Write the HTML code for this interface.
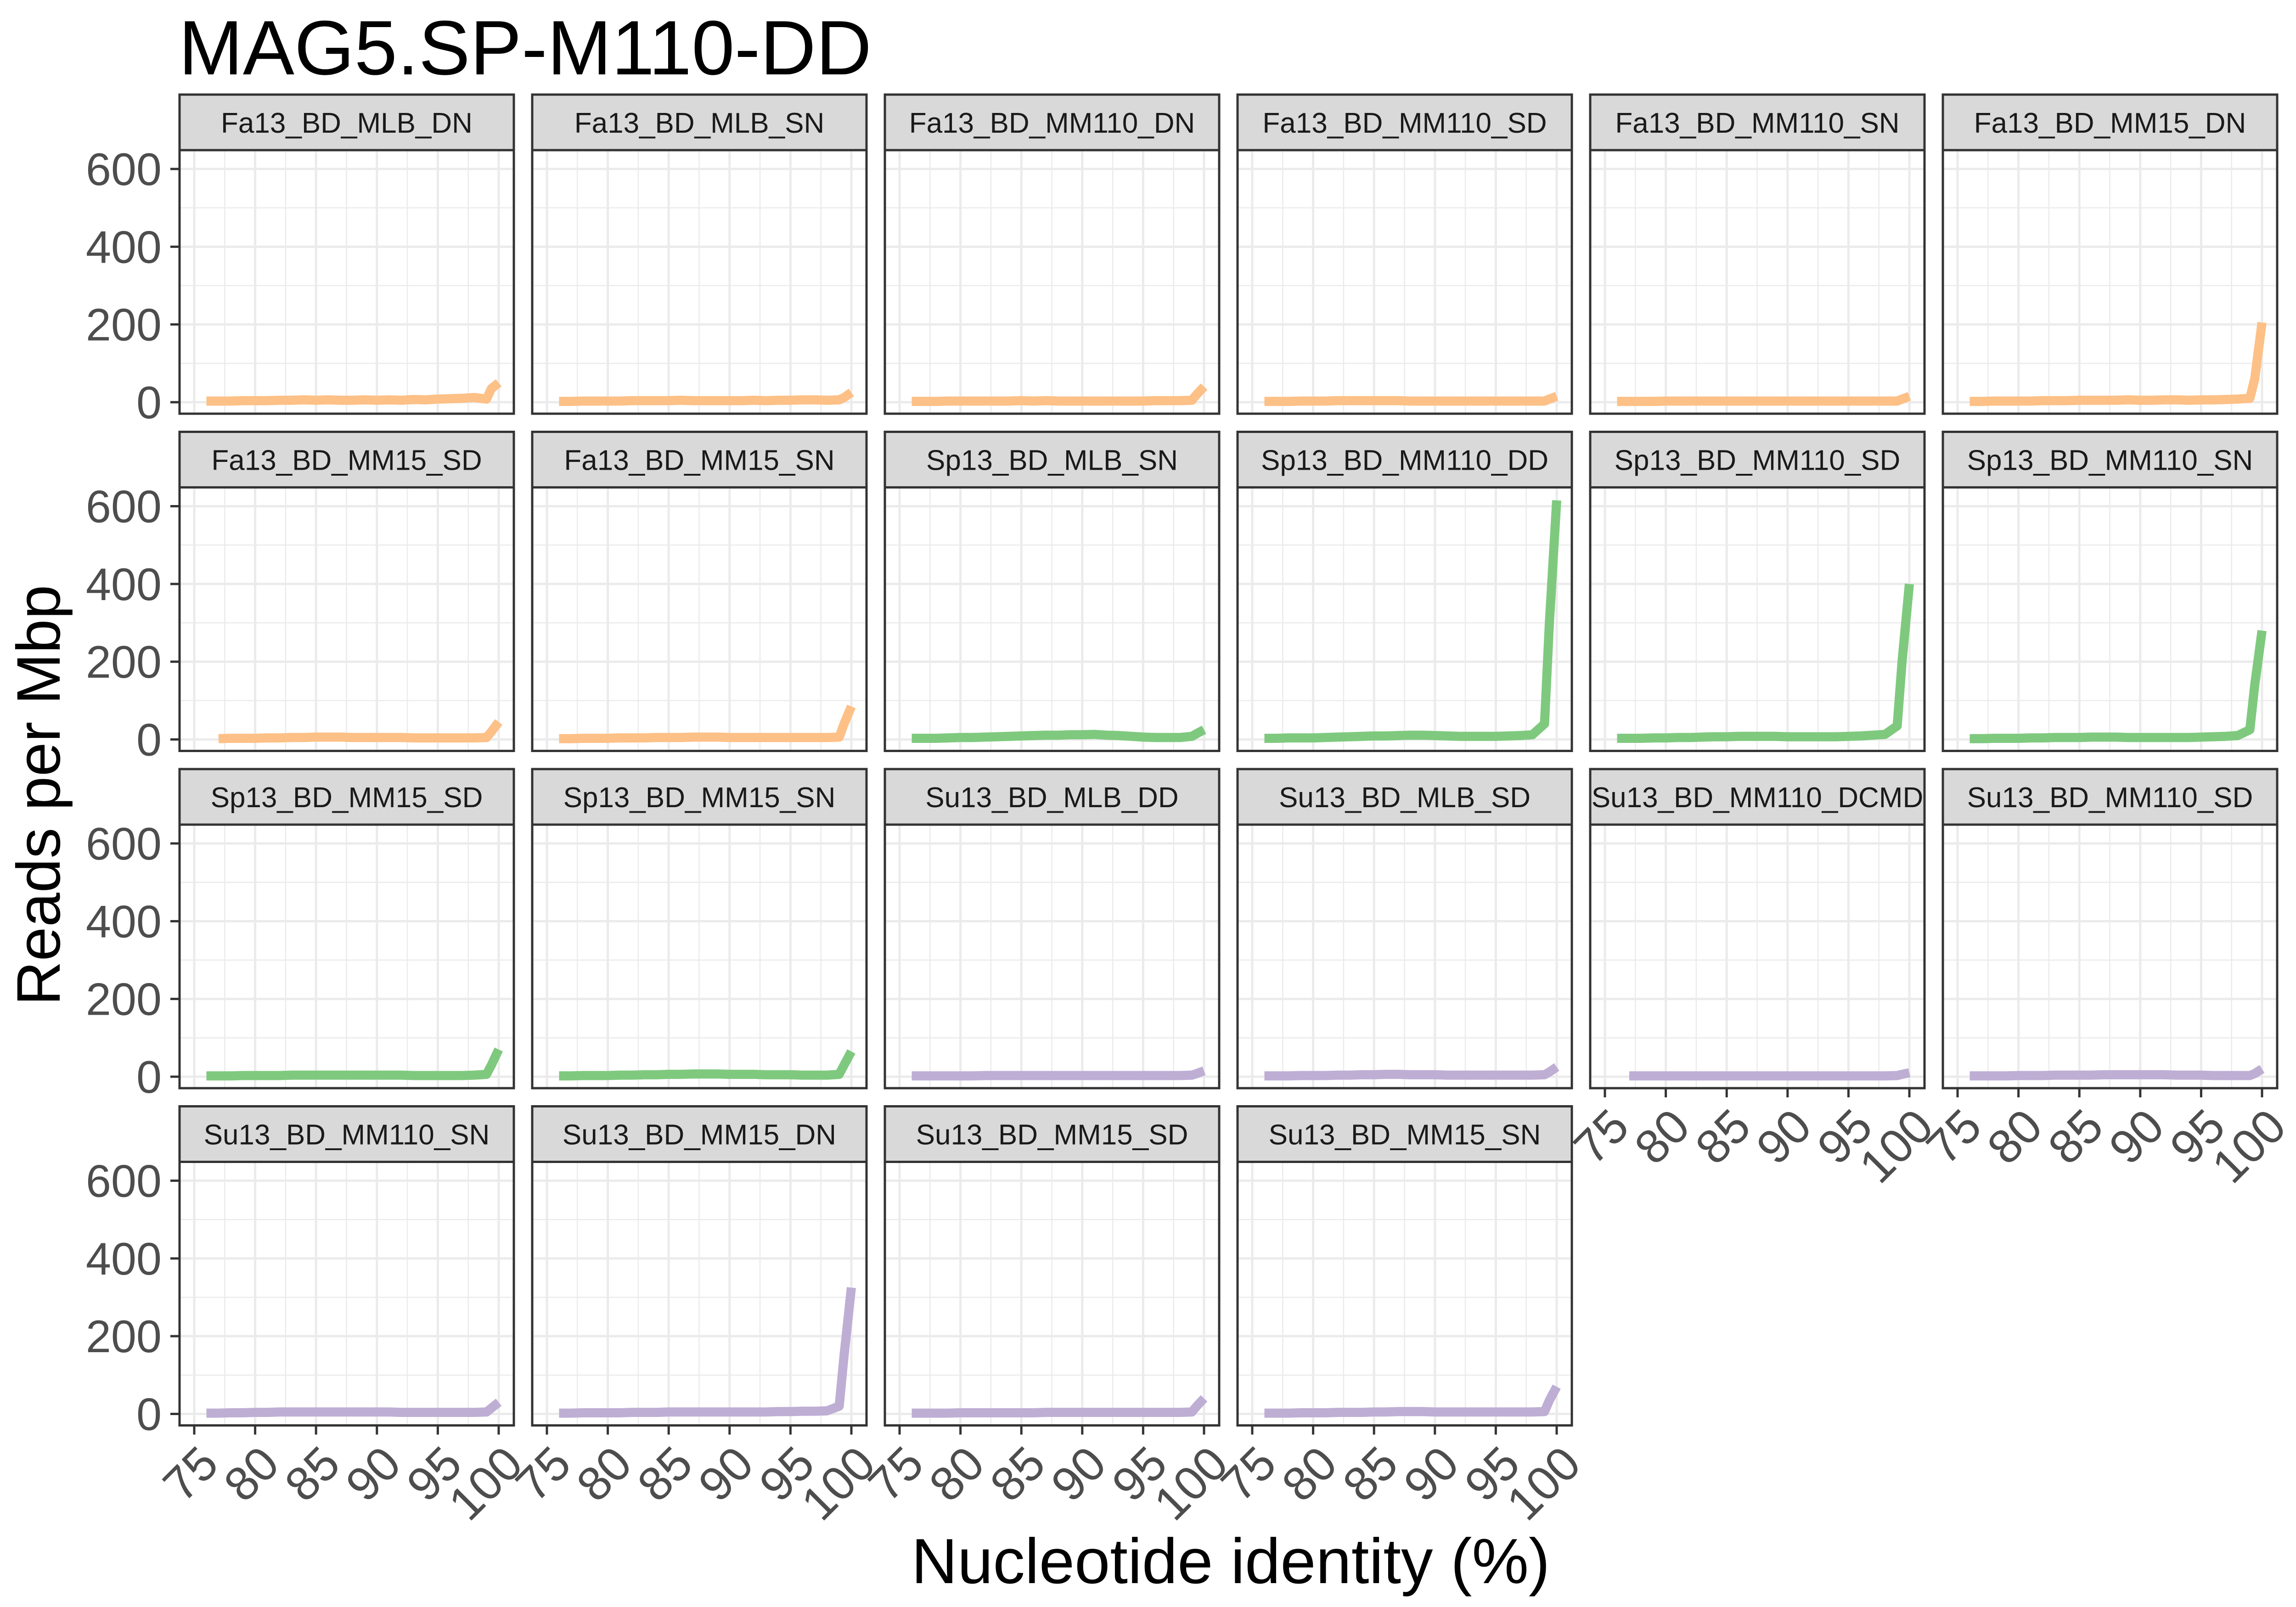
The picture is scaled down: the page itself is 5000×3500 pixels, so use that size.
<!DOCTYPE html>
<html><head><meta charset="utf-8"><style>
html,body{margin:0;padding:0;background:#fff;}
svg{display:block;}
text{font-family:"Liberation Sans",Arial,sans-serif;}
</style></head><body>
<svg id="chart" width="5000" height="3500" viewBox="0 0 5000 3500" xmlns="http://www.w3.org/2000/svg">
<rect width="5000" height="3500" fill="#fff"/>
<text x="389" y="162" font-size="168" fill="#000">MAG5.SP-M110-DD</text>
<text transform="translate(130,1732) rotate(-90)" text-anchor="middle" font-size="134" fill="#000">Reads per Mbp</text>
<text x="2680" y="3448" text-anchor="middle" font-size="139" fill="#000">Nucleotide identity (%)</text>
<g id="panels"></g>
</svg>
<script>
const xs = [76,77,78,79,80,81,82,83,84,85,86,87,88,89,90,91,92,93,94,95,96,97,98,99,99.4,100];
const panelNames = ["Fa13_BD_MLB_DN","Fa13_BD_MLB_SN","Fa13_BD_MM110_DN","Fa13_BD_MM110_SD","Fa13_BD_MM110_SN","Fa13_BD_MM15_DN",
"Fa13_BD_MM15_SD","Fa13_BD_MM15_SN","Sp13_BD_MLB_SN","Sp13_BD_MM110_DD","Sp13_BD_MM110_SD","Sp13_BD_MM110_SN",
"Sp13_BD_MM15_SD","Sp13_BD_MM15_SN","Su13_BD_MLB_DD","Su13_BD_MLB_SD","Su13_BD_MM110_DCMD","Su13_BD_MM110_SD",
"Su13_BD_MM110_SN","Su13_BD_MM15_DN","Su13_BD_MM15_SD","Su13_BD_MM15_SN"];
const panelSeason = ["Fa","Fa","Fa","Fa","Fa","Fa","Fa","Fa","Sp","Sp","Sp","Sp","Sp","Sp","Su","Su","Su","Su","Su","Su","Su","Su"];
const v01 = [3,3,3,4,4,4,5,5,6,5,6,5,5,6,5,6,5,7,6,8,9,10,12,8,35,50];
const v02 = [2,2,3,3,3,3,4,4,4,4,5,4,4,4,4,4,5,4,5,5,6,6,5,6,12,25];
const v03 = [2,2,2,3,3,3,3,3,3,4,3,4,3,3,3,3,3,3,3,3,4,4,4,5,20,40];
const v04 = [2,2,2,3,3,3,4,4,4,4,4,4,3,3,3,3,3,3,3,3,3,3,3,3,8,15];
const v05 = [2,2,2,2,3,3,3,3,3,3,3,3,3,3,3,3,3,3,3,3,3,3,3,3,8,15];
const v06 = [2,2,3,3,3,3,4,4,4,5,5,5,5,6,5,5,6,6,5,6,6,7,8,10,60,205];
const v07 = [null,2,3,3,3,4,4,5,5,6,6,6,5,5,5,5,5,4,4,4,4,4,4,5,20,45];
const v08 = [2,2,3,3,3,4,4,4,5,5,5,6,6,6,5,5,5,5,5,5,5,5,5,6,40,85];
const v09 = [3,3,3,4,5,5,6,7,8,9,10,11,11,12,12,13,11,10,8,6,5,5,5,8,15,25];
const v10 = [3,3,4,4,4,5,6,7,8,9,9,10,11,11,10,9,8,8,8,8,9,10,12,40,300,615];
const v11 = [3,3,3,4,4,5,5,6,7,7,8,8,8,8,7,7,7,7,7,8,9,11,13,35,200,400];
const v12 = [2,2,3,3,3,4,4,5,5,5,6,6,6,5,5,5,5,5,5,6,7,8,10,25,140,280];
const v13 = [2,2,2,3,3,3,3,4,4,4,4,4,4,4,4,4,4,3,3,3,3,3,4,6,30,70];
const v14 = [2,2,3,3,3,4,4,5,5,6,6,7,7,7,6,6,6,5,5,5,4,4,4,6,30,65];
const v15 = [2,2,2,2,2,2,3,3,3,3,3,3,3,3,3,3,3,3,3,3,3,3,3,4,8,15];
const v16 = [2,2,2,3,3,3,4,4,5,5,6,6,5,5,5,4,4,4,4,4,4,4,4,5,12,25];
const v17 = [null,2,2,2,2,2,2,2,2,2,2,2,2,2,2,2,2,2,2,2,2,2,2,3,6,10];
const v18 = [2,2,2,2,3,3,3,4,4,4,4,5,5,5,5,5,5,4,4,4,3,3,3,3,8,20];
const v19 = [2,2,3,3,4,4,5,5,5,5,5,5,5,5,5,5,4,4,4,4,4,4,4,5,15,30];
const v20 = [2,2,3,3,3,3,4,4,4,5,5,5,5,5,5,5,5,5,6,6,7,7,8,20,150,325];
const v21 = [2,2,2,2,3,3,3,3,3,3,3,4,4,4,4,4,4,4,4,4,4,4,4,5,20,40];
const v22 = [2,2,2,3,3,3,4,4,4,5,5,6,6,6,5,5,5,5,5,5,5,5,5,6,35,70];
const panelValues = [v01,v02,v03,v04,v05,v06,v07,v08,v09,v10,v11,v12,v13,v14,v15,v16,v17,v18,v19,v20,v21,v22];
const xTicks = [75,80,85,90,95,100];
const xMinor = [77.5,82.5,87.5,92.5,97.5];
const yTicks = [0,200,400,600];
const yMinor = [100,300,500];

const NS = "http://www.w3.org/2000/svg";
const colors = {Fa:"#FDC086", Sp:"#7FC97F", Su:"#BEAED4"};
const X0=391, PITCH_X=768, PW=728, Y0=206, PITCH_Y=734.5, SH=121, PH=574;
const g = document.getElementById("panels");
function mk(tag, attrs, parent){const e=document.createElementNS(NS,tag);for(const k in attrs)e.setAttribute(k,attrs[k]);(parent||g).appendChild(e);return e;}
function xScale(v, left){return left + 32 + (v-75)*(663/25);}
function yScale(v, top){return top + 41 + (600-v)*(508/600);}

panelNames.forEach((name,i)=>{
  const col=i%6, row=Math.floor(i/6);
  const left=X0+col*PITCH_X, stripTop=Y0+row*PITCH_Y, top=stripTop+SH;
  const pg=mk("g",{});
  
  
  mk("rect",{x:left,y:top,width:PW,height:PH,fill:"#fff"},pg);
  xMinor.forEach(v=>mk("line",{x1:xScale(v,left),x2:xScale(v,left),y1:top,y2:top+PH,stroke:"#EBEBEB","stroke-width":2.5},pg));
  yMinor.forEach(v=>mk("line",{x1:left,x2:left+PW,y1:yScale(v,top),y2:yScale(v,top),stroke:"#EBEBEB","stroke-width":2.5},pg));
  xTicks.forEach(v=>mk("line",{x1:xScale(v,left),x2:xScale(v,left),y1:top,y2:top+PH,stroke:"#EBEBEB","stroke-width":5},pg));
  yTicks.forEach(v=>mk("line",{x1:left,x2:left+PW,y1:yScale(v,top),y2:yScale(v,top),stroke:"#EBEBEB","stroke-width":5},pg));
  const vals=panelValues[i];
  let d="";
  vals.forEach((v,k)=>{if(v===null)return;d+=(d?"L":"M")+xScale(xs[k],left).toFixed(1)+","+yScale(v,top).toFixed(1);});
  const line=mk("path",{d:d,fill:"none",stroke:colors[panelSeason[i]],"stroke-width":20,"stroke-linejoin":"round"},pg);
  
  
  mk("rect",{x:left,y:top,width:PW,height:PH,fill:"none",stroke:"#333","stroke-width":5},pg);
  const strip=mk("rect",{x:left,y:stripTop,width:PW,height:SH,fill:"#D9D9D9",stroke:"#333","stroke-width":5},pg);
  
  
  const st=mk("text",{x:left+PW/2,y:stripTop+83,"text-anchor":"middle","font-size":62,fill:"#1A1A1A"},pg);
  st.textContent=name;
  
  
  if(col===0){
    yTicks.forEach(v=>{
      const y=yScale(v,top);
      mk("line",{x1:left-20,x2:left,y1:y,y2:y,stroke:"#333","stroke-width":5},pg);
      const t=mk("text",{x:left-39,y:y+35,"text-anchor":"end","font-size":99,fill:"#4D4D4D"},pg);
      t.textContent=v;
      
      
    });
  }
  const bottom = (row===3) || (row===2 && col>=4);
  if(bottom){
    xTicks.forEach(v=>{
      const x=xScale(v,left);
      mk("line",{x1:x,x2:x,y1:top+PH,y2:top+PH+20,stroke:"#333","stroke-width":5},pg);
      const t=mk("text",{transform:"translate("+(x+58)+","+(top+PH+90)+") rotate(-45)","text-anchor":"end","font-size":104,fill:"#4D4D4D"},pg);
      t.textContent=v;
      
      
    });
  }
});
</script>
</body></html>
